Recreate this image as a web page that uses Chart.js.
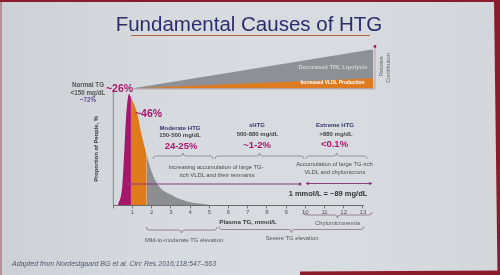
<!DOCTYPE html>
<html>
<head>
<meta charset="utf-8">
<script src="https://cdn.jsdelivr.net/npm/chart.js@4.4.1/dist/chart.umd.min.js"></script>
<style>
  html, body { margin: 0; padding: 0; }
  body { width: 500px; height: 275px; overflow: hidden; position: relative;
    font-family: "Liberation Sans", Arial, sans-serif;
    background: linear-gradient(90deg, #cdd1d6 0%, #d7dade 35%, #d8dbdf 70%, #d3d7db 100%); }
  #c { position: absolute; left: 0; top: 0; }
  .t { position: absolute; transform: translate(-50%, -50%); white-space: nowrap; line-height: 1; }
  .b { font-weight: bold; }
  .mag { color: #a8176e; font-weight: bold; }
  .navy { color: #34386e; font-weight: bold; }
  .dk { color: #444; font-weight: bold; }
  .note { color: #4a4a4a; font-size: 5.8px; }
  .frame { position: absolute; background: #8c1b2c; }
</style>
</head>
<body>
<div class="frame" style="left:0;top:0;width:500px;height:2px"></div>
<div class="frame" style="left:0;top:0;width:1.5px;height:275px;opacity:.35"></div>
<div class="frame" style="left:0;top:0;width:500px;height:275px;clip-path:polygon(494px 0,500px 0,500px 275px,497.5px 275px)"></div>
<div class="frame" style="left:0;top:0;width:500px;height:275px;clip-path:polygon(300px 271.5px,500px 270.5px,500px 275px,300px 275px)"></div>

<canvas id="c" width="500" height="275"></canvas>

<div class="t" style="left:249px;top:24px;font-size:20.5px;color:#2e2d6c">Fundamental Causes of HTG</div>
<div style="position:absolute;left:131px;top:34.5px;width:239px;height:1.5px;background:#b4693c"></div>

<div class="t dk" style="left:88px;top:85px;font-size:6.3px;color:#555">Normal TG</div>
<div class="t dk" style="left:88px;top:92.5px;font-size:6.3px;color:#555">&lt;150 mg/dL</div>
<div class="t b" style="left:88px;top:99.5px;font-size:6.3px;color:#6a4c9c">~72%</div>
<div class="t mag" style="left:119.5px;top:88px;font-size:10.5px">~26%</div>
<div class="t mag" style="left:148.5px;top:112.5px;font-size:10.5px">~46%</div>

<div class="t navy" style="left:180px;top:127.5px;font-size:6px">Moderate HTG</div>
<div class="t dk" style="left:180px;top:135px;font-size:6px">150-500 mg/dL</div>
<div class="t mag" style="left:181px;top:146px;font-size:9.5px">24-25%</div>

<div class="t navy" style="left:257px;top:125px;font-size:6px">sHTG</div>
<div class="t dk" style="left:257.5px;top:134px;font-size:6px">500-880 mg/dL</div>
<div class="t mag" style="left:257px;top:144.5px;font-size:9.5px">~1-2%</div>

<div class="t navy" style="left:335px;top:125px;font-size:6px">Extreme HTG</div>
<div class="t dk" style="left:336px;top:133.5px;font-size:6px">&gt;880 mg/dL</div>
<div class="t mag" style="left:334.5px;top:143.5px;font-size:9.5px">&lt;0.1%</div>

<div class="t note" style="left:216px;top:168px">Increasing accumulation of large TG-</div>
<div class="t note" style="left:217px;top:175.5px">rich VLDL and their remnants</div>
<div class="t note" style="left:334.5px;top:165px">Accumulation of large TG-rich</div>
<div class="t note" style="left:335px;top:172.5px">VLDL and chylomicrons</div>

<div class="t b" style="left:328px;top:194px;font-size:7.5px;color:#333">1 mmol/L = ~89 mg/dL</div>
<div class="t b" style="left:248px;top:222px;font-size:6.2px;color:#3a3a3a">Plasma TG, mmol/L</div>
<div class="t b" style="left:97px;top:149px;font-size:5.8px;color:#3a3a3a;transform:translate(-50%,-50%) rotate(-90deg)">Proportion of People, %</div>

<div class="t note" style="left:337.5px;top:223.5px;color:#555">Chylomicronemia</div>
<div class="t note" style="left:184px;top:241px;color:#555">Mild-to-moderate TG elevation</div>
<div class="t note" style="left:292px;top:239px;color:#555">Severe TG elevation</div>

<div class="t b" style="left:333px;top:68px;font-size:5.8px;color:#d4d4d4">Decreased TRL Lipolysis</div>
<div class="t b" style="left:332.5px;top:82.8px;font-size:4.9px;color:#fff">Increased VLDL Production</div>
<div class="t" style="left:382px;top:65.5px;font-size:5.5px;color:#666;transform:translate(-50%,-50%) rotate(-90deg)">Relative</div>
<div class="t" style="left:389px;top:68px;font-size:5.5px;color:#666;transform:translate(-50%,-50%) rotate(-90deg)">Contribution</div>

<div style="position:absolute;left:12px;top:259.5px;font-size:7px;font-style:italic;color:#4e5a72;white-space:nowrap;line-height:1">Adapted from Nordestgaard BG et al. Circ Res 2016;118:547&#8211;563</div>

<script>
// distribution of plasma TG (mmol/L) vs relative proportion of people
const normalX = [0.24, 0.47, 0.57, 0.66, 0.82, 0.92];
const normalY = [0, 18, 48, 78, 100, 97];
const moderateX = [0.92, 1.22, 1.48, 1.74];
const moderateY = [97, 84, 63, 45];
const severeX = [1.74, 2.0, 2.34, 3.04, 3.9, 4.78, 5.3];
const severeY = [45, 30, 18, 9.4, 3.4, 1.1, 0];

// "relative contribution" wedge above the curve
const wedgeX = [1.04, 13.54];
const wedgeBase = 105;
const vldlTop = [105, 114];
const lipolysisTop = [105, 140];

const xTicks = [1, 2, 3, 4, 5, 6, 7, 8, 9, 10, 11, 12, 13];

// brace spans in mmol/L
const upperBraces = [[2.07, 5.2], [5.3, 9.93], [10.03, 13.22]];
const lowerBraces = [
  { from: 9.88, to: 13.47, y: 215 },
  { from: 1.71, to: 5.4, y: 230 },
  { from: 5.5, to: 13.05, y: 229.5 }
];

const MAGENTA = "#a8156f", ORANGE = "#e07b1c", GRAY = "#8c8e91";

function pts(xs, ys) { return xs.map((x, i) => ({ x, y: ys[i] })); }

function area(xs, ys, color, fill) {
  return {
    data: pts(xs, ys), fill: fill, backgroundColor: color, borderColor: color,
    borderWidth: 0, pointRadius: 0, cubicInterpolationMode: "monotone"
  };
}

function brace(ctx, x1, x2, y, dir, d) {
  const xm = (x1 + x2) / 2, r = 3;
  ctx.beginPath();
  ctx.moveTo(x1, y - dir * d);
  ctx.quadraticCurveTo(x1, y, x1 + r, y);
  ctx.lineTo(xm - r, y);
  ctx.quadraticCurveTo(xm, y, xm, y + dir * d);
  ctx.quadraticCurveTo(xm, y, xm + r, y);
  ctx.lineTo(x2 - r, y);
  ctx.quadraticCurveTo(x2, y, x2, y - dir * d);
  ctx.stroke();
}

function head(ctx, x, y, dir) {
  ctx.beginPath();
  ctx.moveTo(x, y);
  ctx.lineTo(x - dir * 3.5, y - 1.8);
  ctx.lineTo(x - dir * 3.5, y + 1.8);
  ctx.closePath();
  ctx.fill();
}

const decorations = {
  id: "decorations",
  afterDraw(chart) {
    const ctx = chart.ctx, xs = chart.scales.x, ys = chart.scales.y;
    const px = v => xs.getPixelForValue(v), py = v => ys.getPixelForValue(v);
    ctx.save();
    ctx.lineWidth = 1;

    // axes
    ctx.strokeStyle = "#858585";
    ctx.beginPath(); ctx.moveTo(px(0), py(0)); ctx.lineTo(px(0), py(103.5)); ctx.stroke();
    ctx.strokeStyle = "#6a6a6a";
    ctx.beginPath(); ctx.moveTo(px(0), py(0)); ctx.lineTo(px(13.05), py(0)); ctx.stroke();

    // wedge base + relative contribution arrow
    ctx.strokeStyle = "#a8909f"; ctx.lineWidth = 0.8;
    ctx.beginPath(); ctx.moveTo(px(wedgeX[0]), py(wedgeBase) + 0.5); ctx.lineTo(px(13.63), py(wedgeBase) + 0.5); ctx.stroke();
    ctx.beginPath(); ctx.moveTo(px(13.63), py(wedgeBase)); ctx.lineTo(px(13.63), 47); ctx.stroke();
    ctx.fillStyle = "#a01a5a";
    ctx.beginPath(); ctx.arc(px(13.63), 46.5, 1.4, 0, Math.PI * 2); ctx.fill();

    // accumulation arrows
    ctx.strokeStyle = "#8e3a7c"; ctx.fillStyle = "#8e3a7c"; ctx.lineWidth = 1;
    const ay = 184;
    ctx.beginPath(); ctx.moveTo(px(0.77), ay); ctx.lineTo(px(9.72), ay); ctx.stroke();
    ctx.beginPath(); ctx.arc(px(0.77), ay, 1.2, 0, Math.PI * 2); ctx.fill();
    ctx.beginPath(); ctx.arc(px(9.72), ay, 1.5, 0, Math.PI * 2); ctx.fill();
    ctx.beginPath(); ctx.moveTo(px(10.05), ay - 0.5); ctx.lineTo(px(13.47), ay - 0.5); ctx.stroke();
    head(ctx, px(10.0), ay - 0.5, -1);
    head(ctx, px(13.5), ay - 0.5, 1);

    // braces
    ctx.strokeStyle = "#8a7f92"; ctx.lineWidth = 0.8;
    upperBraces.forEach(([a, b]) => brace(ctx, px(a), px(b), 156, -1, 3));
    ctx.strokeStyle = "#8b6f8e";
    lowerBraces.forEach(br => brace(ctx, px(br.from), px(br.to), br.y, 1, 3));
    ctx.restore();
  }
};

Chart.defaults.font.family = '"Liberation Sans", Arial, sans-serif';

new Chart(document.getElementById("c"), {
  type: "line",
  data: {
    datasets: [
      area(wedgeX, vldlTop, "#de7a20", { value: wedgeBase }),
      area(wedgeX, lipolysisTop, "#8d9094", { value: wedgeBase }),
      area(normalX, normalY, MAGENTA, "origin"),
      area(moderateX, moderateY, ORANGE, "origin"),
      area(severeX, severeY, GRAY, "origin")
    ]
  },
  options: {
    responsive: false,
    animation: false,
    devicePixelRatio: 1,
    layout: { padding: { left: 113.3, top: 49.3, right: 123.66, bottom: 0 } },
    scales: {
      x: {
        type: "linear", min: 0, max: 13.7,
        afterBuildTicks: s => { s.ticks = [0].concat(xTicks).map(v => ({ value: v })); },
        ticks: { callback: v => v === 0 ? "" : v, font: { size: 6 }, color: "#555", padding: 0, maxRotation: 0 },
        grid: { drawOnChartArea: false, tickLength: 3, color: "#777" },
        border: { display: false },
        afterFit: s => { s.height = 69.5; }
      },
      y: { display: false, min: 0, max: 140 }
    },
    plugins: { legend: { display: false }, tooltip: { enabled: false } }
  },
  plugins: [decorations]
});
</script>
</body>
</html>
